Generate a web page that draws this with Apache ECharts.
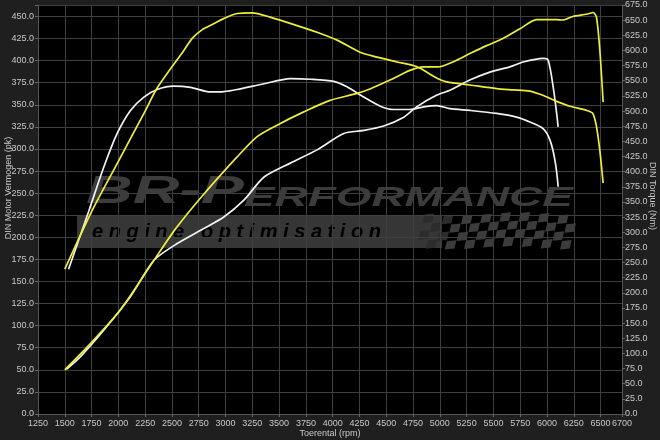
<!DOCTYPE html>
<html>
<head>
<meta charset="utf-8">
<script src="https://cdn.jsdelivr.net/npm/echarts@6/dist/echarts.min.js"></script>
<style>html,body{margin:0;padding:0;background:#1f1f1f;}#c{width:660px;height:440px;}</style>
</head>
<body>
<div id="c"></div>
<script>
// ---- data (rpm, pk / Nm) ----
var tunedPowerRpm = [1500,1710,2020,2332,2530,2763,3108,3295,3481,3730,3975,4227,4348,4535,4721,4849,4973,5029,5157,5280,5436,5588,5747,5903,6089,6148,6241,6369,6431,6462,6493,6524];
var tunedPowerPk  = [50,76,118,174,209,244,291,314,327,342,355,363,368,378,389,393,393,394,400.5,408,417,425,436,446.5,446.5,446,450,452.5,454.5,449,412,353];

var stockPowerRpm = [1515,1647,1865,2113,2332,2549,2798,2984,3171,3357,3605,3854,4103,4290,4476,4663,4787,4973,5094,5280,5467,5653,5778,5964,6011,6058,6104];
var stockPowerPk  = [50.5,65,95,133,174,193,210,223,242,268,284,299,317.5,321,326,336,348,361,366.5,378,387,393,398.5,402.5,400.5,370,325];

var tunedTorqueRpm = [1500,1756,2000,2250,2362,2611,2689,2780,2857,2982,3109,3248,3416,3668,3854,4041,4255,4414,4600,4787,4974,5064,5280,5530,5681,5840,5961,6089,6213,6369,6428,6462,6493,6524];
var tunedTorqueNm  = [239,336,417,500,538,600,620,634,641,652.5,661,662,655,641,630,617,597,589,581,573,554,548,543,537,535,533,526,516,508,501,496,474,435,381];

var stockTorqueRpm = [1535,1726,1865,1989,2113,2238,2362,2518,2673,2859,2984,3108,3357,3605,3792,4010,4134,4290,4444,4569,4724,4849,4973,5094,5280,5530,5716,5840,5964,6028,6074,6104];
var stockTorqueNm  = [239,336,408,463,501,523,535.5,541,539,531.5,532,535.5,545,553.5,552.5,549,540,523,508,502.5,502.5,507,509,504,501,496,490,482,471,452,419,375];

var xTitle = 'Toerental (rpm)';
var leftTitle = 'DIN Motor Vermogen (pk)';
var rightTitle = 'DIN Torque (Nm)';

function pairs(xs, ys){ return xs.map(function(x,i){ return [x, ys[i]]; }); }

var YELLOW = '#eeee3a', WHITE = '#f2f2f2';
var FONT = 'Liberation Sans, Arial, sans-serif';
var labelStyle = {color:'#c8c8c8', fontSize:9, fontFamily:FONT};

// ---- watermark decoration ----
var wm = [];
wm.push({type:'rect', z:-100, shape:{x:38, y:5, width:584, height:409}, style:{fill:'#000'}, silent:true});
wm.push({type:'rect', z:-50, shape:{x:77, y:215, width:365, height:33}, style:{fill:'#363636'}, silent:true});
wm.push({type:'text', z:-40, x:86, y:212, scaleX:1.70, originX:0, originY:0, silent:true,
  style:{text:'{a|BR-P}{b|ERFORMANCE}', fill:'#3c3c3c', verticalAlign:'bottom', align:'left',
    rich:{a:{fontSize:38, fontWeight:900, fontStyle:'italic', fontFamily:FONT, fill:'#3c3c3c', verticalAlign:'bottom', lineHeight:31},
          b:{fontSize:27, fontWeight:900, fontStyle:'italic', fontFamily:FONT, fill:'#3c3c3c', verticalAlign:'bottom', lineHeight:31}}}});
wm.push({type:'text', z:-40, x:92, y:232, silent:true,
  style:{text:'e n g i n e   o p t i m i s a t i o n', fill:'#000', fontSize:20, fontWeight:'bold', fontStyle:'italic',
    fontFamily:FONT, verticalAlign:'middle', align:'left'}});
(function(){
  var rows = 4, cols = 16, w = 9.6, h = 8.4, x0 = 416, y0 = 214.5;
  for (var r = 0; r < rows; r++) {
    for (var c = 0; c < cols; c++) {
      if ((r + c) % 2) continue;
      var sx = x0 + c * w + (3 - r) * 2.2, sy = y0 + r * h + Math.sin(c * 0.5) * 1.5;
      wm.push({type:'polygon', z:-45, silent:true,
        shape:{points:[[sx+2,sy],[sx+w+2,sy-1],[sx+w,sy+h-1],[sx,sy+h]]},
        style:{fill: c < 3 ? '#2c2c2c' : '#3c3c3c'}});
    }
  }
})();
wm.push({type:'text', left:'center', top:429, style:{text:xTitle, fill:'#c8c8c8', fontSize:9, fontFamily:FONT}});
wm.push({type:'text', x:9, y:188, rotation:Math.PI/2, style:{text:leftTitle, fill:'#c8c8c8', fontSize:9, fontFamily:FONT, align:'center', verticalAlign:'middle'}});
wm.push({type:'text', x:652, y:196, rotation:-Math.PI/2, style:{text:rightTitle, fill:'#c8c8c8', fontSize:9, fontFamily:FONT, align:'center', verticalAlign:'middle'}});

var chart = echarts.init(document.getElementById('c'), null, {renderer:'canvas'});
function fmt1(v){ return (Math.abs(v/25 - Math.round(v/25)) < 1e-6) ? v.toFixed(1) : ''; }

chart.setOption({
  backgroundColor:'#1f1f1f',
  animation:false,
  grid:{left:38, right:38, top:5, bottom:26, containLabel:false},
  graphic: wm,
  xAxis:{type:'value', min:1250, max:6700, interval:250,
    axisLine:{show:true, lineStyle:{color:'#555'}},
    axisTick:{show:true, length:3, lineStyle:{color:'#666'}},
    axisLabel:Object.assign({margin:5, showMaxLabel:true, showMinLabel:true, hideOverlap:false, formatter:function(v){ return String(v); }}, labelStyle),
    splitLine:{show:true, lineStyle:{color:'#3e3e3e', width:1}}},
  yAxis:[
    {type:'value', min:0, max:463, interval:25, position:'left',
      axisLine:{show:true, lineStyle:{color:'#555'}},
      axisTick:{show:true, length:3, lineStyle:{color:'#666'}},
      axisLabel:Object.assign({margin:4, formatter:fmt1}, labelStyle),
      splitLine:{show:true, lineStyle:{color:'#3e3e3e', width:1}}},
    {type:'value', min:0, max:675, interval:25, position:'right',
      axisLine:{show:true, lineStyle:{color:'#555'}},
      axisTick:{show:true, length:3, lineStyle:{color:'#666'}},
      axisLabel:Object.assign({margin:3, formatter:fmt1}, labelStyle),
      splitLine:{show:false}}
  ],
  series:[
    {type:'line', name:'stock power', yAxisIndex:0, data:pairs(stockPowerRpm, stockPowerPk), showSymbol:false, smooth:0.25, lineStyle:{color:WHITE, width:1.7}},
    {type:'line', name:'stock torque', yAxisIndex:1, data:pairs(stockTorqueRpm, stockTorqueNm), showSymbol:false, smooth:0.25, lineStyle:{color:WHITE, width:1.7}},
    {type:'line', name:'tuned power', yAxisIndex:0, data:pairs(tunedPowerRpm, tunedPowerPk), showSymbol:false, smooth:0.25, lineStyle:{color:YELLOW, width:1.7}},
    {type:'line', name:'tuned torque', yAxisIndex:1, data:pairs(tunedTorqueRpm, tunedTorqueNm), showSymbol:false, smooth:0.25, lineStyle:{color:YELLOW, width:1.7}}
  ]
});
</script>
</body>
</html>
